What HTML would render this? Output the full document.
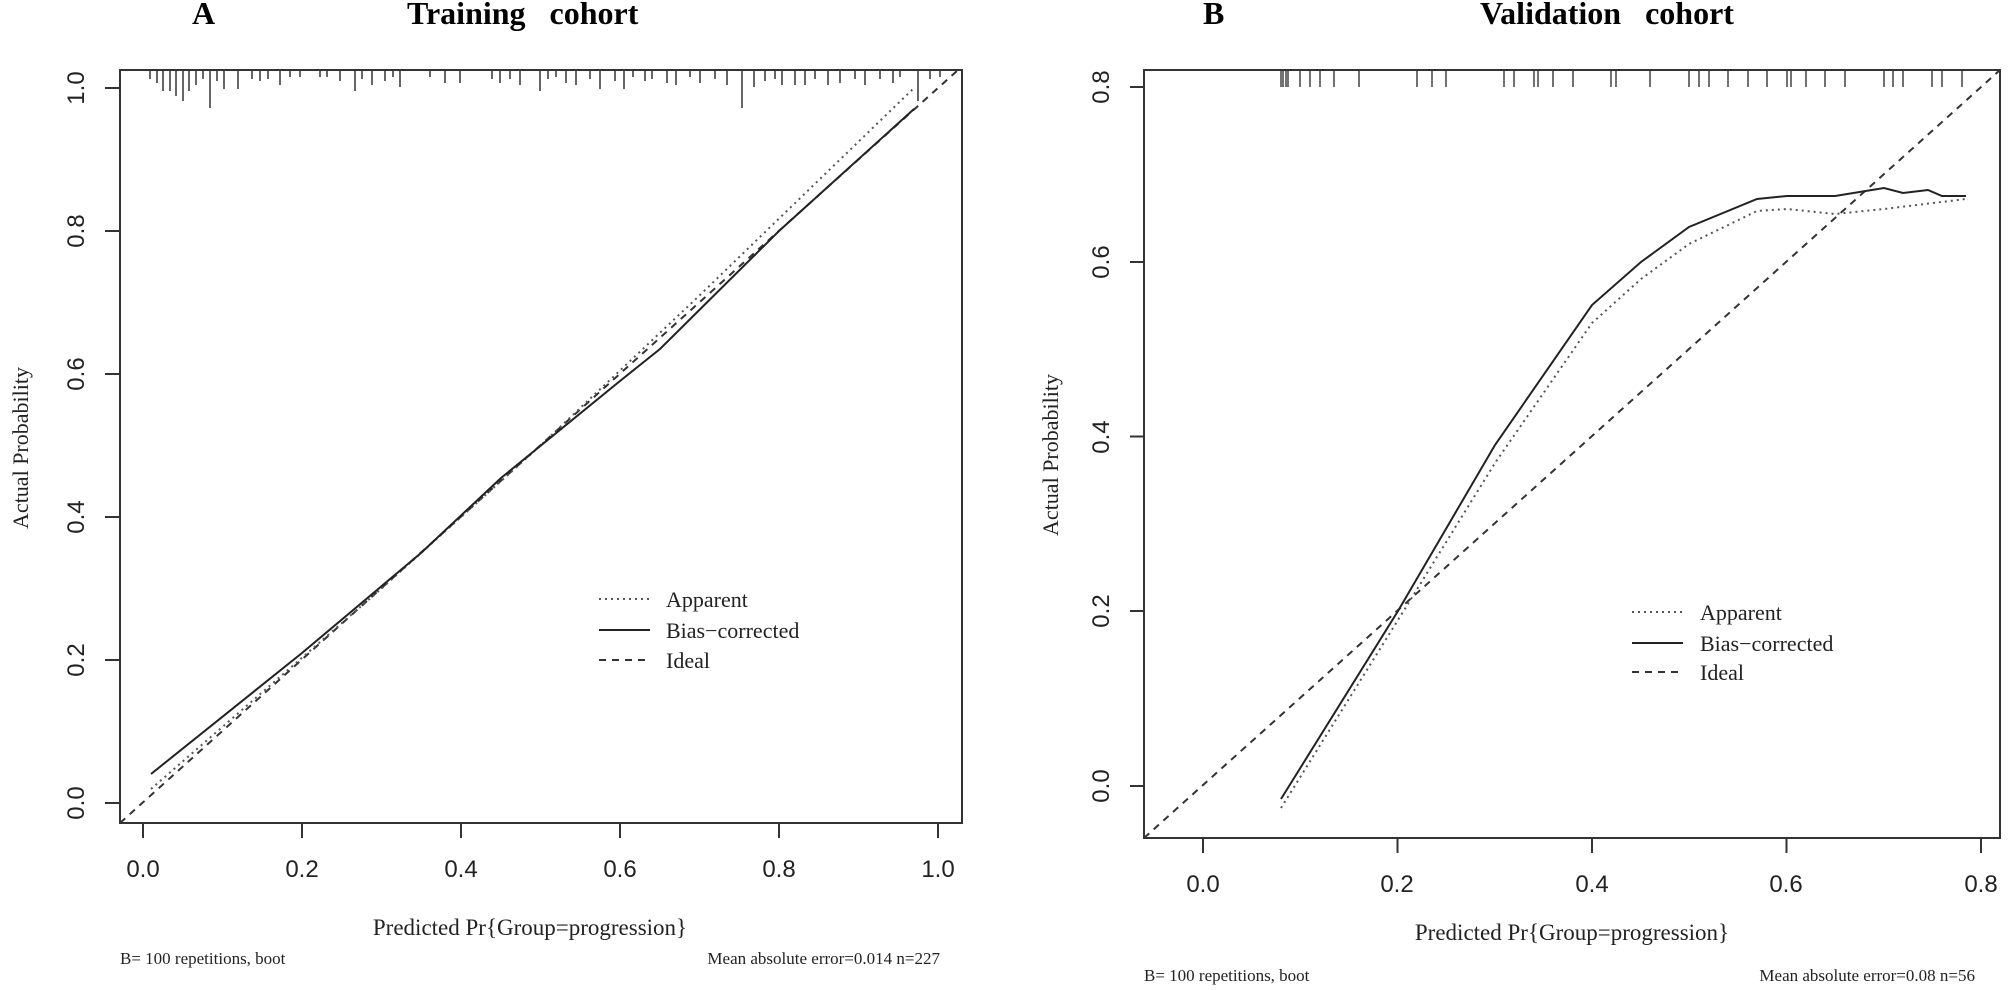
<!DOCTYPE html>
<html><head><meta charset="utf-8"><style>
html,body{margin:0;padding:0;background:#fff;}
svg{display:block;}
.t{font-family:"Liberation Sans",sans-serif;font-size:24px;fill:#222;}
.s{font-family:"Liberation Serif",serif;fill:#222;}
.h{font-family:"Liberation Serif",serif;font-weight:bold;font-size:32px;fill:#000;}
</style></head><body>
<svg width="2008" height="990" viewBox="0 0 2008 990" xmlns="http://www.w3.org/2000/svg">
<rect width="2008" height="990" fill="#fff"/>
<!-- Titles -->
<text class="h" x="192" y="24">A</text>
<text class="h" x="407" y="24">Training&#160;&#160;&#160;cohort</text>
<text class="h" x="1203" y="24">B</text>
<text class="h" x="1480" y="24">Validation&#160;&#160;&#160;cohort</text>

<!-- ===== Panel A ===== -->
<g stroke="#333" fill="none" stroke-width="2">
<rect x="120" y="70" width="842" height="753"/>
<path d="M143 823V838M302 823V838M461 823V838M620 823V838M779 823V838M938 823V838"/>
<path d="M105 803H120M105 660H120M105 517H120M105 374H120M105 231H120M105 88H120"/>
</g>
<g class="t" text-anchor="middle">
<text x="143" y="877">0.0</text><text x="302" y="877">0.2</text><text x="461" y="877">0.4</text>
<text x="620" y="877">0.6</text><text x="779" y="877">0.8</text><text x="938" y="877">1.0</text>
</g>
<g class="t" text-anchor="middle">
<text transform="translate(84,803) rotate(-90)">0.0</text>
<text transform="translate(84,660) rotate(-90)">0.2</text>
<text transform="translate(84,517) rotate(-90)">0.4</text>
<text transform="translate(84,374) rotate(-90)">0.6</text>
<text transform="translate(84,231) rotate(-90)">0.8</text>
<text transform="translate(84,88) rotate(-90)">1.0</text>
</g>
<text class="s" font-size="22" text-anchor="middle" transform="translate(28,448) rotate(-90)">Actual Probability</text>
<text class="s" font-size="23" x="530" y="935" text-anchor="middle">Predicted Pr{Group=progression}</text>
<text class="s" font-size="17" x="120" y="964">B= 100 repetitions, boot</text>
<text class="s" font-size="17" x="940" y="964" text-anchor="end">Mean absolute error=0.014 n=227</text>
<!-- rug A -->
<path stroke="#333" stroke-width="1.5" fill="none" d="M150 71v8M157 71v12M163 71v20M170 71v20M176 71v25M183 71v30M189 71v20M196 71v14M203 71v8M210 71v37M217 71v10M224 71v18M238 71v18M252 71v8M260 71v10M268 71v8M280 71v14M290 71v6M300 71v6M320 71v6M327 71v6M340 71v10M355 71v20M362 71v8M372 71v14M385 71v10M393 71v6M400 71v16M430 71v6M445 71v12M460 71v12M492 71v8M500 71v12M510 71v8M520 71v14M540 71v20M548 71v8M556 71v6M566 71v12M576 71v14M590 71v8M600 71v18M615 71v10M624 71v18M633 71v6M645 71v10M652 71v8M667 71v12M676 71v14M690 71v6M700 71v12M715 71v8M727 71v14M742 71v37M754 71v16M765 71v10M775 71v8M782 71v14M795 71v14M805 71v14M815 71v8M828 71v14M840 71v12M855 71v8M865 71v14M880 71v8M893 71v12M900 71v6M918 71v30M930 71v8M940 71v6"/>
<!-- curves A -->
<path d="M120 823L958 70" stroke="#333" stroke-width="2" stroke-dasharray="7,6" fill="none"/>
<path d="M151 789L381 589L540 446L700 295L914 88" stroke="#555" stroke-width="2" stroke-dasharray="2,4" fill="none"/>
<path d="M151 774L302 653L421 553L501 478L620 381L660 349L779 231L914 109" stroke="#222" stroke-width="2" fill="none"/>
<!-- legend A -->
<path d="M599 599H650" stroke="#555" stroke-width="2" stroke-dasharray="2,4"/>
<path d="M599 630H650" stroke="#222" stroke-width="2"/>
<path d="M599 660H650" stroke="#333" stroke-width="2" stroke-dasharray="7,6"/>
<g class="s" font-size="22">
<text x="666" y="607">Apparent</text><text x="666" y="638">Bias−corrected</text><text x="666" y="668">Ideal</text>
</g>

<!-- ===== Panel B ===== -->
<g stroke="#333" fill="none" stroke-width="2">
<rect x="1144" y="70" width="856" height="768"/>
<path d="M1203 838V853M1397.5 838V853M1592 838V853M1786.5 838V853M1981 838V853"/>
<path d="M1130 786H1144M1130 611H1144M1130 436.5H1144M1130 262H1144M1130 87H1144"/>
</g>
<g class="t" text-anchor="middle">
<text x="1203" y="892">0.0</text><text x="1397" y="892">0.2</text><text x="1592" y="892">0.4</text>
<text x="1786" y="892">0.6</text><text x="1981" y="892">0.8</text>
</g>
<g class="t" text-anchor="middle">
<text transform="translate(1109,786) rotate(-90)">0.0</text>
<text transform="translate(1109,611) rotate(-90)">0.2</text>
<text transform="translate(1109,437) rotate(-90)">0.4</text>
<text transform="translate(1109,262) rotate(-90)">0.6</text>
<text transform="translate(1109,87) rotate(-90)">0.8</text>
</g>
<text class="s" font-size="22" text-anchor="middle" transform="translate(1058,455) rotate(-90)">Actual Probability</text>
<text class="s" font-size="23" x="1572" y="940" text-anchor="middle">Predicted Pr{Group=progression}</text>
<text class="s" font-size="17" x="1144" y="981">B= 100 repetitions, boot</text>
<text class="s" font-size="17" x="1975" y="981" text-anchor="end">Mean absolute error=0.08 n=56</text>
<!-- rug B -->
<path stroke="#444" stroke-width="1.5" fill="none" d="M1281 71v16M1283 71v16M1286 71v16M1288 71v16M1300 71v16M1310 71v16M1320 71v16M1334 71v16M1359 71v16M1417 71v16M1432 71v16M1446 71v16M1504 71v16M1514 71v16M1534 71v16M1538 71v16M1553 71v16M1573 71v16M1611 71v16M1616 71v16M1650 71v16M1689 71v16M1699 71v16M1709 71v16M1728 71v16M1748 71v16M1767 71v16M1787 71v16M1791 71v16M1806 71v16M1825 71v16M1845 71v16M1884 71v16M1893 71v16M1903 71v16M1932 71v16M1942 71v16M1962 71v16"/>
<!-- curves B -->
<path d="M1144 838L2000 70" stroke="#333" stroke-width="2" stroke-dasharray="7,6" fill="none"/>
<path d="M1281 808L1398 620L1495 463L1592 323L1641 279L1689 244L1757 211L1787 209L1835 214L1884 209L1966 199" stroke="#555" stroke-width="2" stroke-dasharray="2,4" fill="none"/>
<path d="M1281 799L1398 611L1495 445L1592 305L1641 262L1689 227L1757 199L1787 196L1835 196L1884 188L1903 193L1928 190L1942 196L1966 196" stroke="#222" stroke-width="2" fill="none"/>
<!-- legend B -->
<path d="M1632 612H1683" stroke="#555" stroke-width="2" stroke-dasharray="2,4"/>
<path d="M1632 643H1683" stroke="#222" stroke-width="2"/>
<path d="M1632 672H1683" stroke="#333" stroke-width="2" stroke-dasharray="7,6"/>
<g class="s" font-size="22">
<text x="1700" y="620">Apparent</text><text x="1700" y="651">Bias−corrected</text><text x="1700" y="680">Ideal</text>
</g>
</svg>
</body></html>
